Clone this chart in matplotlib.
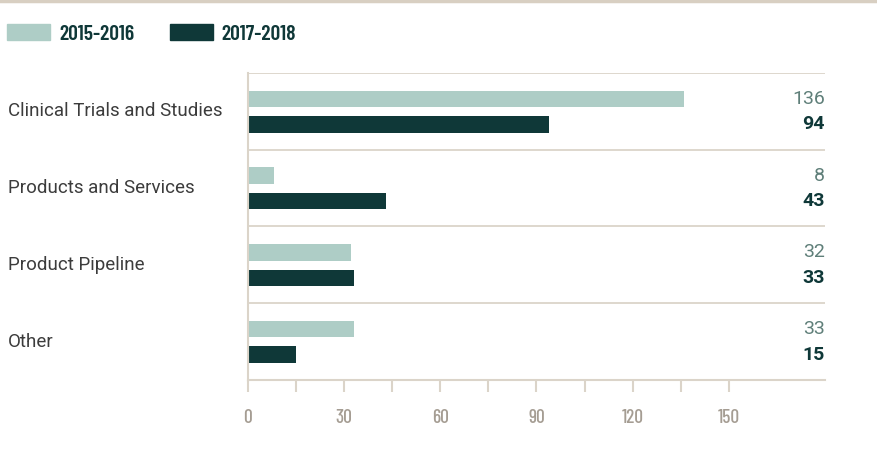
import numpy as np
import matplotlib
matplotlib.use("Agg")
import matplotlib.pyplot as plt
from matplotlib.patches import Patch
from matplotlib.lines import Line2D
from matplotlib.ticker import FixedLocator
from matplotlib.transforms import blended_transform_factory

categories = ["Clinical Trials and Studies", "Products and Services", "Product Pipeline", "Other"]
period_labels = ["2015-2016", "2017-2018"]
values_2015_2016 = [136, 8, 32, 33]
values_2017_2018 = [94, 43, 33, 15]
x_ticks = [0, 30, 60, 90, 120, 150]

light = "#aecdc6"
dark = "#0f3838"
rule = "#dbd4c9"
tick_grey = "#a59d93"
narrow = ["Barlow Condensed", "DejaVu Sans"]

fig = plt.figure(figsize=(8.78, 4.53), dpi=100)
ax = fig.add_axes([248 / 878, 1 - 380 / 453, (825 - 248) / 878, (380 - 73) / 453])

# thin rule along the very top of the figure
fig.add_artist(Line2D([0, 1], [0.997, 0.997], transform=fig.transFigure, color="#d8cfc2", lw=2.5))

y = np.arange(len(categories))
h = 0.214
ax.barh(y + 0.338, values_2015_2016, height=h, color=light)
ax.barh(y + 0.669, values_2017_2018, height=h, color=dark)

ax.set_xlim(0, 180)
ax.set_ylim(len(categories), 0)

# row separators
for b in range(len(categories)):
    ax.axhline(b, color=rule, lw=1.3, zorder=0)

for s in ["top", "right"]:
    ax.spines[s].set_visible(False)
for s in ["left", "bottom"]:
    ax.spines[s].set_color(rule)
    ax.spines[s].set_linewidth(1.5)

ax.set_xticks(x_ticks)
ax.xaxis.set_minor_locator(FixedLocator([t + 15 for t in x_ticks[:-1]]))
ax.tick_params(axis="x", which="both", length=8.6, width=1.5, color=rule, direction="out", pad=12,
               labelcolor=tick_grey, labelsize=14)
for lbl in ax.get_xticklabels():
    lbl.set_family(narrow)
    lbl.set_fontweight("medium")
ax.set_yticks([])

lab_tr = blended_transform_factory(fig.transFigure, ax.transData)
for i, c in enumerate(categories):
    ax.text(8 / 878, i + 0.5, c, transform=lab_tr, ha="left", va="center", fontsize=13.5,
            family="Roboto", color="#3c3c3c", clip_on=False)

val_tr = blended_transform_factory(ax.transAxes, ax.transData)
for i in range(len(categories)):
    ax.text(1.0, i + 0.338, str(values_2015_2016[i]), transform=val_tr, ha="right", va="center",
            fontsize=14, family="Roboto", color="#5f7f79")
    ax.text(1.0, i + 0.669, str(values_2017_2018[i]), transform=val_tr, ha="right", va="center",
            fontsize=14, family="Roboto", fontweight="bold", color=dark)

handles = [Patch(color=light), Patch(color=dark)]
leg = fig.legend(handles, period_labels, loc="center left", bbox_to_anchor=(7 / 878, 1 - 34 / 453), ncol=2,
                 frameon=False, handlelength=2.0, handleheight=0.72, handletextpad=0.42, columnspacing=1.65,
                 borderaxespad=0, borderpad=0, prop={"family": narrow, "weight": "semibold", "size": 15.5})
for t in leg.get_texts():
    t.set_color(dark)

fig.savefig("out.png", dpi=100)
